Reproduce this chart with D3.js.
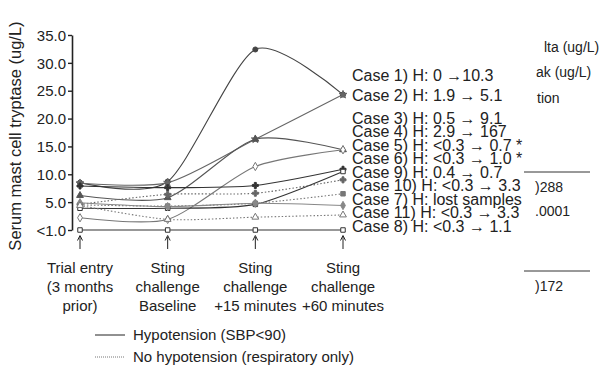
<!DOCTYPE html>
<html><head><meta charset="utf-8">
<script src="https://cdn.jsdelivr.net/npm/d3@7"></script>
<style>body{margin:0;background:#fff}svg{display:block}text{font-family:"Liberation Sans",Arial,sans-serif;fill:#222}</style>
</head><body><svg id="c" width="599" height="372"></svg>
<script>
const timepoints = [["Trial entry","(3 months","prior)"],["Sting","challenge","Baseline"],["Sting","challenge","+15 minutes"],["Sting","challenge","+60 minutes"]];
const yTicks = [0,5,10,15,20,25,30,35];
const yTickLabels = ["<1.0","5.0","10.0","15.0","20.0","25.0","30.0","35.0"];
const caseNames = ["Case 1","Case 2","Case 3","Case 4","Case 5","Case 6","Case 9","Case 10","Case 7","Case 11","Case 8"];
const caseLabels = ["Case 1) H: 0 \u219210.3","Case 2) H: 1.9 \u2192 5.1","Case 3) H: 0.5 \u2192 9.1","Case 4) H: 2.9 \u2192 167","Case 5) H: <0.3 \u2192 0.7 *","Case 6) H: <0.3 \u2192 1.0 *","Case 9) H: 0.4 \u2192 0.7","Case 10) H: <0.3 \u2192 3.3","Case 7) H: lost samples","Case 11) H: <0.3 \u2192 3.3","Case 8) H: <0.3 \u2192 1.1"];
const case1 = [8.5, 8.7, 32.4, 24.3];
const case2 = [8.4, 8.5, 16.3, 24.3];
const case3 = [6.2, 5.8, 16.3, 14.4];
const case4 = [2.2, 1.9, 11.4, 14.4];
const case5 = [7.9, 7.6, 8.0, 10.9];
const case6 = [3.9, 3.9, 4.6, 10.5];
const case9 = [4.6, 6.4, 6.6, 9.0];
const case10 = [4.5, 4.3, 4.8, 6.5];
const case7 = [4.9, 4.2, 4.8, 4.4];
const case11 = [4.4, 1.9, 2.3, 2.7];
const case8 = [0, 0, 0, 0];
const seriesValues = [case1,case2,case3,case4,case5,case6,case9,case10,case7,case11,case8];
const hypotension = [true,true,true,true,true,true,false,false,true,false,true];
const legendLabels = ["Hypotension (SBP<90)","No hypotension (respiratory only)"];
const bgTexts = ["lta (ug/L)","ak (ug/L)","tion",")288",".0001",")172"];

const svg = d3.select("#c");
const x = d3.scalePoint().domain(d3.range(timepoints.length)).range([80,343]);
const y = d3.scaleLinear().domain([0,35]).range([230,35]);

// faint background bleed (cropped table)
const bg = svg.append("g");
const bgPos = [[544,52],[536,77],[537,103],[535,192],[535,216],[535,291]];
bgTexts.forEach((t,i)=>bg.append("text").attr("x",bgPos[i][0]).attr("y",bgPos[i][1]).attr("fill","#333").style("font-size","14px").text(t));
[172,271].forEach(v=>svg.append("line").attr("x1",524).attr("x2",590).attr("y1",v).attr("y2",v).attr("stroke","#333").attr("stroke-width",1));

// y axis
const yAxis = d3.axisLeft(y).tickValues(yTicks).tickFormat((d,i)=>yTickLabels[i]).tickSize(4).tickSizeOuter(0);
const ga = svg.append("g").attr("transform","translate(72,0)").call(yAxis);
ga.select(".domain").attr("stroke","#222").attr("stroke-width",1.6);
ga.selectAll(".tick line").attr("stroke","#222").attr("stroke-width",1.4);
ga.selectAll(".tick text").style("font-size","15px").attr("fill","#222").attr("x",-6).attr("dy","0.35em").style("font-family","Liberation Sans, Arial, sans-serif");

svg.append("text").attr("transform","translate(21,136) rotate(-90)").attr("text-anchor","middle").style("font-size","16.5px").text("Serum mast cell tryptase (ug/L)");

// lines
const colors = ["#444","#666","#555","#777","#333","#333","#666","#777","#888","#777","#333"];
const line = d3.line().x((d,i)=>x(i)).y(d=>y(d)).curve(d3.curveCardinal.tension(0.25));
seriesValues.forEach((vals,k)=>{
  svg.append("path").datum(vals).attr("d",line).attr("fill","none")
    .attr("stroke",colors[k]).attr("stroke-width",1.1)
    .attr("stroke-dasharray",hypotension[k]?null:"1.5,2");
});
// markers
const syms = [d3.symbolCircle,d3.symbolStar,d3.symbolTriangle,d3.symbolDiamond,d3.symbolCross,d3.symbolSquare,d3.symbolCross,d3.symbolSquare,d3.symbolDiamond,d3.symbolTriangle,d3.symbolSquare];
const filled = [true,true,true,false,true,false,true,true,true,false,false];
seriesValues.forEach((vals,k)=>{
  const sym = d3.symbol().type(syms[k]).size(20);
  svg.append("g").selectAll("path").data(vals).join("path")
    .attr("transform",(d,i)=>`translate(${x(i)},${y(d)})`).attr("d",sym)
    .attr("fill",filled[k]?colors[k]:"#fff").attr("stroke",colors[k]).attr("stroke-width",1);
});

// arrows and x labels
timepoints.forEach((lines,i)=>{
  const cx = x(i);
  svg.append("line").attr("x1",cx).attr("x2",cx).attr("y1",249).attr("y2",237).attr("stroke","#222").attr("stroke-width",1);
  svg.append("path").attr("d",`M${cx-2.5},${240.5}L${cx},${235.5}L${cx+2.5},${240.5}`).attr("fill","none").attr("stroke","#222").attr("stroke-width",1);
  lines.forEach((t,j)=>svg.append("text").attr("x",cx).attr("y",273+j*19).attr("text-anchor","middle").style("font-size","15px").text(t));
});

// case labels
const labelY = [75,95,118,131.5,145,158.5,172,185.5,199,212.5,226];
caseLabels.forEach((t,k)=>{
  svg.append("text").attr("x",352).attr("y",labelY[k]).attr("dy","0.35em").style("font-size","16px").text(t);
});

// legend
legendLabels.forEach((t,k)=>{
  const ly = 335 + k*22;
  svg.append("line").attr("x1",95).attr("x2",125).attr("y1",ly).attr("y2",ly)
    .attr("stroke",k?"#777":"#222").attr("stroke-width",1).attr("stroke-dasharray",k?"1,1":null);
  svg.append("text").attr("x",133).attr("y",ly).attr("dy","0.35em").style("font-size","15px").text(t);
});
</script></body></html>
